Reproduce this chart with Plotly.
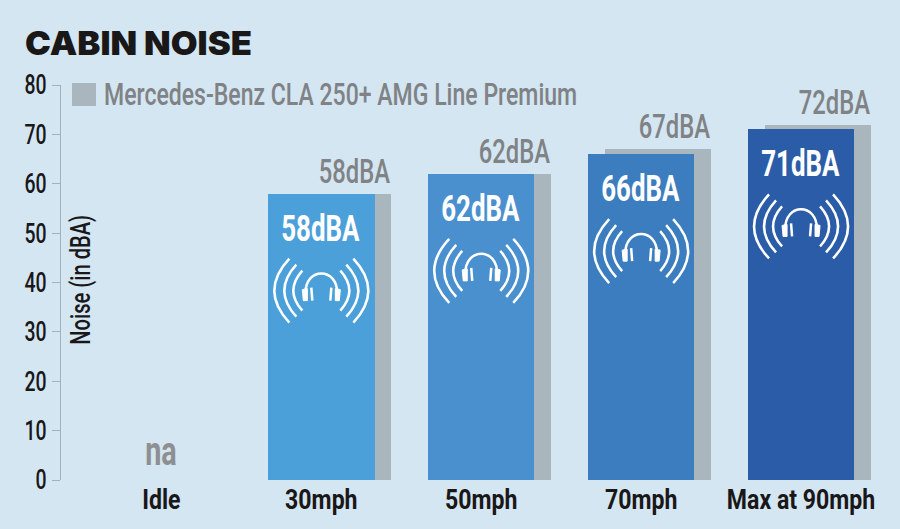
import plotly.graph_objects as go

categories = ['Idle', '30mph', '50mph', '70mph', 'Max at 90mph']
front_values = [None, 58, 62, 66, 71]
back_values = [None, 58, 62, 67, 72]
front_colors = ['#4ca0da', '#4ca0da', '#4a90cf', '#3b7dbe', '#2b5ca8']
y_ticks = [0, 10, 20, 30, 40, 50, 60, 70, 80]
legend_name = 'Mercedes-Benz CLA 250+ AMG Line Premium'

NARROW = 'Roboto'
BG = '#d3e6f2'
GREY = '#a9b6be'
TEXT_GREY = '#808285'
BAR_W = 0.665
ICON_DROP = 97

# the original type is condensed and no condensed face is installed, so squeeze the glyphs
SQUEEZE = """
document.body.style.margin = '0';
document.querySelectorAll('svg text').forEach(function (t) {
  var k = 0.72;
  if (t.classList.contains('gtitle')) k = 1.05;
  if (t.closest('.xtick')) k = 0.84;
  t.setAttribute('textLength', t.getComputedTextLength() * k);
  t.setAttribute('lengthAdjust', 'spacingAndGlyphs');
});
"""


def narrow_font(size, color, weight=500):
  return dict(family=NARROW, size=size, color=color, weight=weight)


def icon_path():
  # headphones with sound waves, pixels around the centre of the icon
  p = ''
  for sx in (-1, 1):
    for ex, ey, cx in ((32, 32, 62), (25, 26, 49), (19, 20, 37)):
      p += f'M{sx*ex},{ey-ICON_DROP} Q{sx*cx},{-ICON_DROP} {sx*ex},{-ey-ICON_DROP} '
    p += f'M{sx*10},{3-ICON_DROP} L{sx*9},{-10-ICON_DROP} '
  p += f'M-16,{-3-ICON_DROP} C-16,{24-ICON_DROP} 16,{24-ICON_DROP} 16,{-3-ICON_DROP}'
  return p


def cups_path():
  p = ''
  for sx in (-1, 1):
    p += (f'M{sx*19},{1-ICON_DROP} L{sx*14},{2-ICON_DROP} L{sx*14},{-10-ICON_DROP} '
          f'L{sx*18},{-10-ICON_DROP} Z ')
  return p.strip()


fig = go.Figure()
fig.add_trace(go.Bar(x=categories, y=back_values, width=BAR_W, offset=-BAR_W/2 + 0.105,
                     marker=dict(color=GREY, line_width=0), showlegend=False, name=legend_name))
fig.add_trace(go.Bar(x=categories, y=front_values, width=BAR_W, offset=-BAR_W/2,
                     marker=dict(color=front_colors, line_width=0), showlegend=False))

for cat, front, back in zip(categories, front_values, back_values):
  if front is None:
    fig.add_annotation(x=cat, y=0, text='na', showarrow=False, yanchor='bottom', yshift=3,
                       font=narrow_font(40, '#8e8f91', 'bold'))
    continue
  fig.add_annotation(x=cat, y=back, text=f'{back}dBA', showarrow=False, yanchor='bottom', yshift=1,
                     xshift=33, font=narrow_font(33, TEXT_GREY))
  fig.add_annotation(x=cat, y=front, text=f'{front}dBA', showarrow=False, yanchor='middle', yshift=-35,
                     font=narrow_font(36, 'white', 'bold'))
  # anchor is the top of the bar, the icon sits below it
  shape_ref = dict(xref='x', yref='y', xsizemode='pixel', ysizemode='pixel', layer='above',
                   xanchor=cat, yanchor=front)
  fig.add_shape(type='path', path=icon_path(), line=dict(color='white', width=2.5), **shape_ref)
  fig.add_shape(type='path', path=cups_path(), fillcolor='white', line=dict(color='white', width=1), **shape_ref)

fig.update_layout(
  width=900, height=529,
  paper_bgcolor=BG, plot_bgcolor=BG,
  margin=dict(l=61, r=3, t=85, b=49),
  barmode='overlay',
  bargap=0,
  showlegend=False,
  title=dict(text='CABIN NOISE', x=25/900, xanchor='left', y=1-43/529, yanchor='middle',
             font=dict(family='Inter', size=33, color='#1a1718', weight=900)),
  xaxis=dict(type='category', categoryorder='array', categoryarray=categories, range=[-0.628, 4.6],
             showline=False, ticks='', showgrid=False, zeroline=False,
             tickfont=narrow_font(27.5, '#1a1718', 'bold')),
  yaxis=dict(range=[0, 80], tickvals=y_ticks, showgrid=False, zeroline=False, showline=True,
             linecolor='#9db2c4', linewidth=1, ticks='outside', ticklen=8, tickcolor='#9db2c4',
             tickfont=narrow_font(27, '#1a1718')),
)

fig.add_annotation(xref='paper', yref='paper', x=19/836, xanchor='center', y=200/395, yanchor='middle',
                   text='Noise (in dBA)', textangle=-90,
                   showarrow=False, font=narrow_font(28, '#1a1718'))
fig.add_annotation(xref='paper', yref='paper', x=279/836, xanchor='center', y=1-9/395, yanchor='middle',
                   text=legend_name, showarrow=False, font=narrow_font(32, TEXT_GREY))
fig.add_shape(type='rect', xref='paper', yref='paper', x0=11/836, x1=35/836, y0=1-21/395, y1=1+2/395,
              fillcolor=GREY, line_width=0, layer='above')

fig.write_html('out.html', post_script=SQUEEZE, config=dict(displayModeBar=False))
